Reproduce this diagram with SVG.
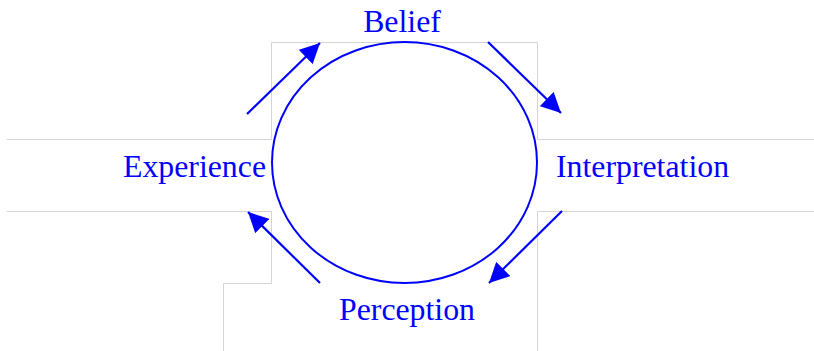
<svg xmlns="http://www.w3.org/2000/svg" width="814" height="351" viewBox="0 0 814 351">
<style>
.frame{fill:none;stroke:#d4d4d4;stroke-width:1}
.lbl{font-family:"Liberation Serif","Times New Roman",serif;font-size:31.8px;fill:#0000ff}
.arr{stroke:#0000ff;stroke-width:2.2;fill:none;marker-end:url(#ah)}
</style>
<defs>
<marker id="ah" viewBox="0 0 10 10" refX="10" refY="5" markerWidth="20" markerHeight="20" markerUnits="userSpaceOnUse" orient="auto">
<path d="M0,0 L10,5 L0,10 z" fill="#0000ff"/>
</marker>
</defs>
<g id="frame">
<polyline class="frame" points="7,139.5 271.5,139.5 271.5,42.5 537.5,42.5 537.5,139.5 814,139.5"/>
<polyline class="frame" points="7,211.5 271.5,211.5 271.5,283.5 223.5,283.5 223.5,351"/>
<polyline class="frame" points="814,211.5 537.5,211.5 537.5,351"/>
</g>
<g id="cycle">
<ellipse cx="404.5" cy="162.5" rx="132.5" ry="120.5" fill="none" stroke="#0000ff" stroke-width="2"/>
</g>
<g id="belief"><text class="lbl" x="402" y="32" text-anchor="middle">Belief</text></g>
<g id="interpretation"><text class="lbl" x="556" y="177">Interpretation</text></g>
<g id="perception"><text class="lbl" x="407" y="320" text-anchor="middle">Perception</text></g>
<g id="experience"><text class="lbl" x="266" y="177" text-anchor="end">Experience</text></g>
<g id="connectors">
<line class="arr" x1="247" y1="114" x2="320" y2="43"/>
<line class="arr" x1="488" y1="42" x2="561" y2="113"/>
<line class="arr" x1="562" y1="211" x2="489" y2="283"/>
<line class="arr" x1="320" y1="283" x2="248" y2="212"/>
</g>
</svg>
